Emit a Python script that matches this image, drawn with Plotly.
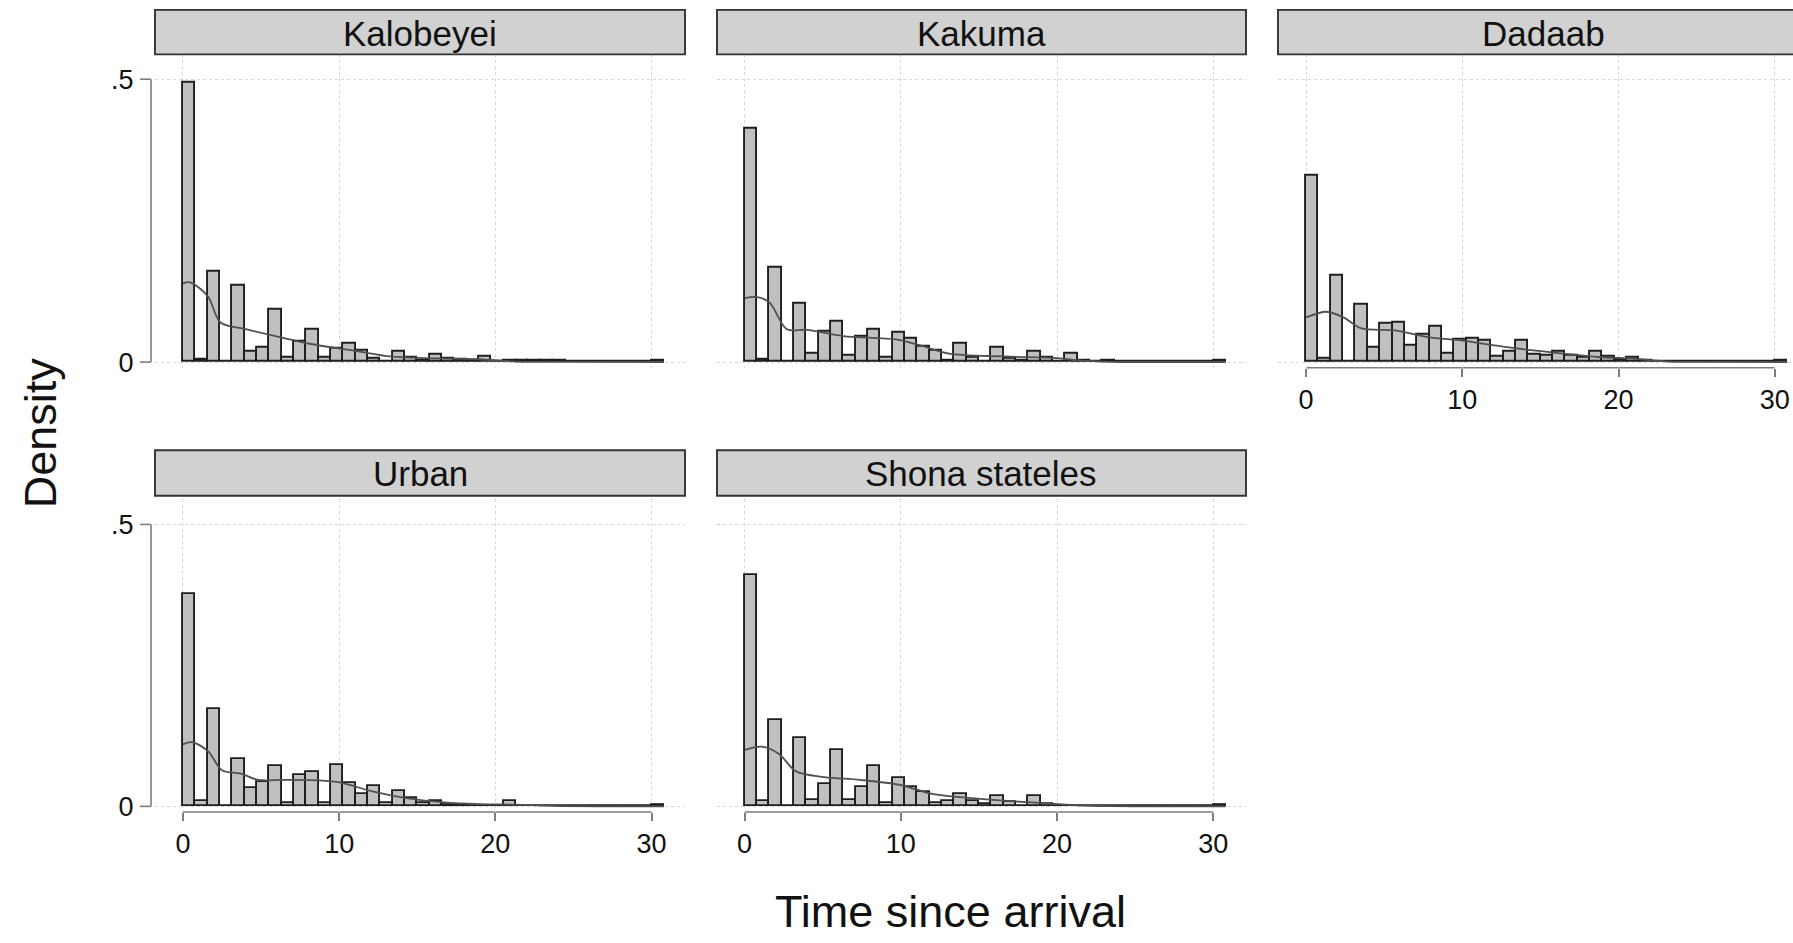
import plotly.graph_objects as go

# ---------------- data ----------------
panel_names = ["Kalobeyei", "Kakuma", "Dadaab", "Urban", "Shona stateles"]

n_bins = 39
bin_width = 0.79
bin_centers = [bin_width * (i + 0.5) for i in range(n_bins)]

dens_kalobeyei = [0.494, 0.005, 0.160, 0.0, 0.135, 0.019, 0.025, 0.093, 0.008, 0.036,
                  0.058, 0.008, 0.023, 0.032, 0.020, 0.006, 0.001, 0.019, 0.007, 0.003,
                  0.013, 0.006, 0.005, 0.003, 0.010, 0.001, 0.003, 0.002, 0.002, 0.002,
                  0.002, 0.0, 0.0, 0.0, 0.0, 0.0, 0.0, 0.0, 0.002]
dens_kakuma = [0.412, 0.005, 0.166, 0.001, 0.103, 0.015, 0.054, 0.071, 0.012, 0.044,
               0.057, 0.007, 0.052, 0.042, 0.028, 0.020, 0.003, 0.032, 0.007, 0.001,
               0.025, 0.006, 0.003, 0.019, 0.007, 0.001, 0.015, 0.002, 0.0, 0.002,
               0.0, 0.0, 0.0, 0.0, 0.0, 0.0, 0.0, 0.0, 0.002]
dens_dadaab = [0.329, 0.006, 0.153, 0.0, 0.101, 0.026, 0.068, 0.069, 0.029, 0.049,
               0.062, 0.015, 0.040, 0.042, 0.038, 0.009, 0.018, 0.037, 0.013, 0.011,
               0.019, 0.011, 0.007, 0.018, 0.009, 0.005, 0.008, 0.002, 0.001, 0.001,
               0.001, 0.001, 0.001, 0.001, 0.001, 0.001, 0.001, 0.0, 0.003]
dens_urban = [0.376, 0.010, 0.173, 0.001, 0.084, 0.032, 0.043, 0.071, 0.006, 0.056,
              0.061, 0.006, 0.073, 0.042, 0.022, 0.036, 0.005, 0.027, 0.014, 0.006,
              0.010, 0.003, 0.002, 0.001, 0.001, 0.001, 0.010, 0.001, 0.0, 0.0,
              0.0, 0.0, 0.0, 0.0, 0.0, 0.0, 0.0, 0.0, 0.002]
dens_shona = [0.411, 0.010, 0.153, 0.0, 0.122, 0.012, 0.039, 0.099, 0.012, 0.034,
              0.072, 0.006, 0.051, 0.035, 0.025, 0.006, 0.010, 0.022, 0.010, 0.004,
              0.019, 0.007, 0.001, 0.019, 0.004, 0.001, 0.0, 0.0, 0.0, 0.0,
              0.0, 0.0, 0.0, 0.0, 0.0, 0.0, 0.0, 0.0, 0.002]

# kernel density curves
kde_kalobeyei_x = [0, 0.46, 1.6, 2.4, 3.9, 6.2, 8.2, 11.0, 13.3, 15.6, 19.0, 21.3, 25.0, 30.8]
kde_kalobeyei_y = [0.139, 0.141, 0.116, 0.070, 0.059, 0.044, 0.032, 0.020, 0.010, 0.007, 0.005, 0.001, 0.0003, 0.0]
kde_kakuma_x = [0, 0.8, 1.6, 2.7, 4.0, 6.3, 9.7, 11.3, 13.1, 16.6, 20.0, 21.4, 23.4, 30.8]
kde_kakuma_y = [0.113, 0.115, 0.105, 0.058, 0.057, 0.046, 0.040, 0.029, 0.015, 0.010, 0.007, 0.003, 0.0005, 0.0]
kde_dadaab_x = [0, 1.3, 2.4, 3.5, 5.7, 7.8, 10.0, 12.2, 14.4, 16.5, 18.7, 20.9, 23.1, 25.3, 30.8]
kde_dadaab_y = [0.079, 0.089, 0.079, 0.060, 0.056, 0.044, 0.038, 0.029, 0.021, 0.015, 0.009, 0.006, 0.001, 0.0005, 0.0]
kde_urban_x = [0, 0.57, 1.6, 2.5, 3.7, 4.8, 6.4, 8.7, 10.1, 12.2, 14.4, 16.7, 19.0, 21.3, 23.6, 30.8]
kde_urban_y = [0.110, 0.114, 0.098, 0.064, 0.058, 0.047, 0.047, 0.046, 0.042, 0.026, 0.014, 0.007, 0.004, 0.003, 0.001, 0.0]
kde_shona_x = [0, 1.1, 2.2, 3.3, 5.1, 7.4, 9.95, 12.0, 14.3, 16.6, 18.9, 21.2, 23.5, 30.8]
kde_shona_y = [0.100, 0.106, 0.093, 0.062, 0.052, 0.047, 0.038, 0.022, 0.015, 0.010, 0.006, 0.002, 0.0005, 0.0]

x_ticks = [0, 10, 20, 30]
y_tickvals = [0, 0.5]
y_ticktext = ["0", ".5"]

# ---------------- layout geometry ----------------
W, H = 1793, 943
FONT = "Liberation Sans, Arial, Helvetica, sans-serif"
AXIS_GRAY = "#7d7d7d"


def px_x(p):
    return p / W


def px_y(p):
    return 1 - p / H


col_px = [(155, 685), (717, 1246), (1278, 1793)]
row_px = [(54.3, 371.7), (504.4, 820.7)]
strip_row_px = [(10, 55), (455, 501)]
x_ranges = [[-1.79, 32.14], [-1.77, 32.10], [-1.80, 31.17]]
y_range = [-0.01, 0.545]
yaxis_line_px = 151
ytick_len_px = 11


def frac(v, rng):
    """position of value v inside an axis range, as a fraction of the axis domain"""
    return (v - rng[0]) / (rng[1] - rng[0])


panels = [
    (panel_names[0], dens_kalobeyei, kde_kalobeyei_x, kde_kalobeyei_y, 0, 0),
    (panel_names[1], dens_kakuma, kde_kakuma_x, kde_kakuma_y, 0, 1),
    (panel_names[2], dens_dadaab, kde_dadaab_x, kde_dadaab_y, 0, 2),
    (panel_names[3], dens_urban, kde_urban_x, kde_urban_y, 1, 0),
    (panel_names[4], dens_shona, kde_shona_x, kde_shona_y, 1, 1),
]

fig = go.Figure()
layout = dict(
    width=W, height=H,
    margin=dict(l=0, r=0, t=0, b=0),
    paper_bgcolor="white", plot_bgcolor="white",
    showlegend=False,
    font=dict(family=FONT, color="#111"),
    bargap=0,
)
shapes = []
annotations = []

for k, (name, dens, kx, ky, r, c) in enumerate(panels):
    idx = k + 1
    xa = "x" if idx == 1 else f"x{idx}"
    ya = "y" if idx == 1 else f"y{idx}"
    show_xlabels = (name in ("Dadaab", "Urban", "Shona stateles"))
    show_ylabels = (c == 0)

    fig.add_trace(go.Bar(
        x=bin_centers, y=dens, width=bin_width,
        marker=dict(color="#c0c0c0", line=dict(color="#1e1e1e", width=1.9)),
        xaxis=xa, yaxis=ya, hoverinfo="skip",
    ))
    fig.add_trace(go.Scatter(
        x=kx, y=ky, mode="lines",
        line=dict(color="#505050", width=1.8, shape="spline", smoothing=0.9),
        xaxis=xa, yaxis=ya, hoverinfo="skip",
    ))

    x0p, x1p = col_px[c]
    yt, yb = row_px[r]
    layout[("xaxis" if idx == 1 else f"xaxis{idx}")] = dict(
        domain=[px_x(x0p), min(1.0, px_x(x1p))],
        anchor=ya, range=x_ranges[c],
        tickvals=x_ticks, showticklabels=show_xlabels,
        ticks="outside" if show_xlabels else "", ticklen=8, tickwidth=1.5, tickcolor=AXIS_GRAY,
        tickfont=dict(size=27, color="#111", family=FONT),
        showgrid=True, gridcolor="#d6d6d6", griddash="dot", gridwidth=1,
        zeroline=False, showline=False, fixedrange=True,
    )
    layout[("yaxis" if idx == 1 else f"yaxis{idx}")] = dict(
        domain=[px_y(yb), px_y(yt)],
        anchor=xa, range=y_range,
        tickvals=y_tickvals, ticktext=y_ticktext, showticklabels=show_ylabels,
        ticks="outside" if show_ylabels else "", ticklen=(x0p - yaxis_line_px) + ytick_len_px,
        tickwidth=1, tickcolor="rgba(0,0,0,0)",
        tickfont=dict(size=27, color="#111", family=FONT),
        showgrid=True, gridcolor="#d6d6d6", griddash="dot", gridwidth=1,
        zeroline=False, showline=False, fixedrange=True,
    )

    # axis lines (Stata style, spanning the tick range only) - domain refs avoid clipping
    if show_xlabels:
        shapes.append(dict(type="line", xref=f"{xa} domain", yref=f"{ya} domain",
                           x0=frac(x_ticks[0], x_ranges[c]), x1=frac(x_ticks[-1], x_ranges[c]),
                           y0=0, y1=0,
                           line=dict(color=AXIS_GRAY, width=1.5), layer="below"))
    if show_ylabels:
        ax_dx = (yaxis_line_px - x0p) / (x1p - x0p)
        tk_dx = (yaxis_line_px - ytick_len_px - x0p) / (x1p - x0p)
        shapes.append(dict(type="line", xref=f"{xa} domain", yref=f"{ya} domain",
                           x0=ax_dx, x1=ax_dx,
                           y0=frac(y_tickvals[0], y_range), y1=frac(y_tickvals[-1], y_range),
                           line=dict(color=AXIS_GRAY, width=1.6)))
        for tv in y_tickvals:
            shapes.append(dict(type="line", xref=f"{xa} domain", yref=f"{ya} domain",
                               x0=tk_dx, x1=ax_dx,
                               y0=frac(tv, y_range), y1=frac(tv, y_range),
                               line=dict(color=AXIS_GRAY, width=1.6)))

    # strip header
    st, sb = strip_row_px[r]
    sx1 = x1p if c < 2 else 1808
    shapes.append(dict(type="rect", xref="paper", yref="paper",
                       x0=px_x(x0p), x1=px_x(sx1), y0=px_y(sb), y1=px_y(st),
                       fillcolor="#d1d1d1", line=dict(color="#333333", width=1.9)))
    annotations.append(dict(
        text=name, xref="paper", yref="paper",
        x=px_x((x0p + sx1) / 2), y=px_y((st + sb) / 2 + 1),
        xanchor="center", yanchor="middle", showarrow=False,
        font=dict(size=35, color="#111", family=FONT),
    ))

annotations.append(dict(
    text="Density", xref="paper", yref="paper", x=px_x(40), y=px_y(438),
    xanchor="center", yanchor="middle", textangle=-90, showarrow=False,
    font=dict(size=45, color="#111", family=FONT),
))
annotations.append(dict(
    text="Time since arrival", xref="paper", yref="paper", x=px_x(950), y=px_y(921),
    xanchor="center", yanchor="middle", showarrow=False,
    font=dict(size=45, color="#111", family=FONT),
))

layout["shapes"] = shapes
layout["annotations"] = annotations
fig.update_layout(**layout)

fig.write_html("out.html")
